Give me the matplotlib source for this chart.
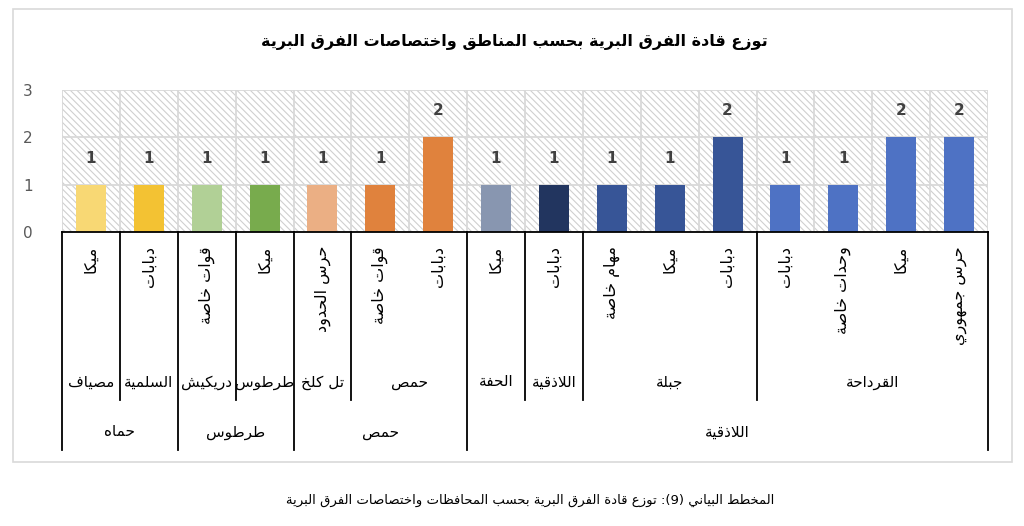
import matplotlib
matplotlib.use("Agg")
import matplotlib.pyplot as plt
import matplotlib.transforms as mtransforms
from matplotlib.patches import Rectangle
from matplotlib.lines import Line2D
import numpy as np

# ---------------- data ----------------
title = "توزع قادة الفرق البرية بحسب المناطق واختصاصات الفرق البرية"
caption = "المخطط البياني (9): توزع قادة الفرق البرية بحسب المحافظات واختصاصات الفرق البرية"
categories = ['ميكا', 'دبابات', 'قوات خاصة', 'ميكا', 'حرس الحدود', 'قوات خاصة', 'دبابات',
              'ميكا', 'دبابات', 'مهام خاصة', 'ميكا', 'دبابات',
              'دبابات', 'وحدات خاصة', 'ميكا', 'حرس جمهوري']
regions = ['مصياف', 'السلمية', 'دريكيش', 'طرطوس', 'تل كلخ', 'حمص', 'حمص',
           'الحفة', 'اللاذقية', 'جبلة', 'جبلة', 'جبلة',
           'القرداحة', 'القرداحة', 'القرداحة', 'القرداحة']
governorates = ['حماه', 'حماه', 'طرطوس', 'طرطوس', 'حمص', 'حمص', 'حمص',
                'اللاذقية', 'اللاذقية', 'اللاذقية', 'اللاذقية', 'اللاذقية',
                'اللاذقية', 'اللاذقية', 'اللاذقية', 'اللاذقية']
values = [1, 1, 1, 1, 1, 1, 2, 1, 1, 1, 1, 2, 1, 1, 2, 2]
yticks = [0, 1, 2, 3]
colors = ['#F8D874', '#F3C233', '#B1D096', '#78AB4D', '#EBAF84', '#E0823D', '#E0823D',
          '#8896B0', '#22355F', '#375597', '#375597', '#375597',
          '#4E72C4', '#4E72C4', '#4E72C4', '#4E72C4']

# ---------------- minimal Arabic shaping (presentation forms) ----------------
FORMS = {
    'ء': (0xFE80, None, None, None),
    'آ': (0xFE81, 0xFE82, None, None), 'أ': (0xFE83, 0xFE84, None, None),
    'ؤ': (0xFE85, 0xFE86, None, None), 'إ': (0xFE87, 0xFE88, None, None),
    'ئ': (0xFE89, 0xFE8A, 0xFE8B, 0xFE8C), 'ا': (0xFE8D, 0xFE8E, None, None),
    'ب': (0xFE8F, 0xFE90, 0xFE91, 0xFE92), 'ة': (0xFE93, 0xFE94, None, None),
    'ت': (0xFE95, 0xFE96, 0xFE97, 0xFE98), 'ث': (0xFE99, 0xFE9A, 0xFE9B, 0xFE9C),
    'ج': (0xFE9D, 0xFE9E, 0xFE9F, 0xFEA0), 'ح': (0xFEA1, 0xFEA2, 0xFEA3, 0xFEA4),
    'خ': (0xFEA5, 0xFEA6, 0xFEA7, 0xFEA8), 'د': (0xFEA9, 0xFEAA, None, None),
    'ذ': (0xFEAB, 0xFEAC, None, None), 'ر': (0xFEAD, 0xFEAE, None, None),
    'ز': (0xFEAF, 0xFEB0, None, None), 'س': (0xFEB1, 0xFEB2, 0xFEB3, 0xFEB4),
    'ش': (0xFEB5, 0xFEB6, 0xFEB7, 0xFEB8), 'ص': (0xFEB9, 0xFEBA, 0xFEBB, 0xFEBC),
    'ض': (0xFEBD, 0xFEBE, 0xFEBF, 0xFEC0), 'ط': (0xFEC1, 0xFEC2, 0xFEC3, 0xFEC4),
    'ظ': (0xFEC5, 0xFEC6, 0xFEC7, 0xFEC8), 'ع': (0xFEC9, 0xFECA, 0xFECB, 0xFECC),
    'غ': (0xFECD, 0xFECE, 0xFECF, 0xFED0), 'ف': (0xFED1, 0xFED2, 0xFED3, 0xFED4),
    'ق': (0xFED5, 0xFED6, 0xFED7, 0xFED8), 'ك': (0xFED9, 0xFEDA, 0xFEDB, 0xFEDC),
    'ل': (0xFEDD, 0xFEDE, 0xFEDF, 0xFEE0), 'م': (0xFEE1, 0xFEE2, 0xFEE3, 0xFEE4),
    'ن': (0xFEE5, 0xFEE6, 0xFEE7, 0xFEE8), 'ه': (0xFEE9, 0xFEEA, 0xFEEB, 0xFEEC),
    'و': (0xFEED, 0xFEEE, None, None), 'ى': (0xFEEF, 0xFEF0, None, None),
    'ي': (0xFEF1, 0xFEF2, 0xFEF3, 0xFEF4),
    'لآ': (0xFEF5, 0xFEF6, None, None), 'لأ': (0xFEF7, 0xFEF8, None, None),
    'لإ': (0xFEF9, 0xFEFA, None, None), 'لا': (0xFEFB, 0xFEFC, None, None),
}
MIRROR = {'(': ')', ')': '(', '[': ']', ']': '['}


def shape(text):
    toks = []
    i = 0
    while i < len(text):
        if text[i] == 'ل' and i + 1 < len(text) and text[i:i + 2] in FORMS:
            toks.append(text[i:i + 2]); i += 2
        else:
            toks.append(text[i]); i += 1
    out = []
    for k, t in enumerate(toks):
        if t not in FORMS:
            out.append(MIRROR.get(t, t)); continue
        iso, fin, ini, med = FORMS[t]
        prev = toks[k - 1] if k > 0 else None
        nxt = toks[k + 1] if k + 1 < len(toks) else None
        jp = prev in FORMS and FORMS[prev][2] is not None
        jn = ini is not None and nxt in FORMS and nxt != 'ء'
        if jp and jn:
            c = med
        elif jp:
            c = fin if fin else iso
        elif jn:
            c = ini
        else:
            c = iso
        out.append(chr(c))
    return ''.join(reversed(out))


# ---------------- figure ----------------
plt.rcParams['font.family'] = ['DejaVu Sans']
plt.rcParams['hatch.linewidth'] = 0.8
W, H = 1024, 526
fig = plt.figure(figsize=(W / 100, H / 100), dpi=100)
fig.patch.set_facecolor('white')

# outer frame
fig.patches.append(Rectangle((13 / W, 1 - 462 / H), (1012 - 13) / W, (462 - 9) / H,
                             transform=fig.transFigure, fill=False,
                             edgecolor='#D9D9D9', linewidth=1.2))

ax = fig.add_axes([62 / W, 1 - 232 / H, (988 - 62) / W, (232 - 90) / H])
n = len(values)
x = np.arange(n)
ax.set_xlim(-0.5, n - 0.5)
ax.set_ylim(0, 3)

# hatched background
ax.add_patch(Rectangle((0, 0), 1, 1, transform=ax.transAxes, facecolor='white',
                       edgecolor='#CFCFCF', hatch='\\\\\\\\\\', linewidth=0, zorder=0))

ax.set_yticks(yticks)
ax.set_xticks(np.arange(-0.5, n, 1), minor=True)
ax.set_xticks([])
ax.grid(axis='y', color='#D9D9D9', linewidth=1.3, zorder=1)
ax.grid(axis='x', which='minor', color='#D9D9D9', linewidth=1.3, zorder=1)
ax.set_axisbelow(True)
for s in ['top', 'right', 'left']:
    ax.spines[s].set_visible(False)
ax.spines['bottom'].set_color('black')
ax.spines['bottom'].set_linewidth(1.3)
ax.spines['bottom'].set_zorder(5)
ax.tick_params(axis='y', length=0, pad=21, labelsize=11, labelcolor='#595959')
ax.tick_params(axis='x', which='both', length=0)

bars = ax.bar(x, values, width=0.52, color=colors, zorder=3)
for xi, v in zip(x, values):
    ax.text(xi, v + 0.56, str(v), ha='center', va='center', fontsize=11,
            fontweight='bold', color='#404040')

# ---------------- multi-level category axis ----------------
tr = mtransforms.blended_transform_factory(ax.transData, ax.transAxes)
ax_h = 232 - 90
y_l2_bottom = -(400 - 232) / ax_h
y_l3_bottom = -(450 - 232) / ax_h
y_l1_top = -(246 - 232) / ax_h
y_l2_c = -(382 - 232) / ax_h
y_l3_c = -(432 - 232) / ax_h


def groups(labels):
    g = []
    start = 0
    for i in range(1, len(labels) + 1):
        if i == len(labels) or labels[i] != labels[start]:
            g.append((start, i - 1, labels[start]))
            start = i
    return g


gov_groups = groups(governorates)
reg_groups = groups([gv + '|' + r for gv, r in zip(governorates, regions)])
gov_bounds = set([g[0] for g in gov_groups] + [n])
reg_bounds = set(g[0] for g in reg_groups)

for b in sorted(gov_bounds):
    ax.add_line(Line2D([b - 0.5, b - 0.5], [0, y_l3_bottom], transform=tr, color='black',
                       linewidth=1.3, clip_on=False))
for b in sorted(reg_bounds - gov_bounds):
    ax.add_line(Line2D([b - 0.5, b - 0.5], [0, y_l2_bottom], transform=tr, color='black',
                       linewidth=1.3, clip_on=False))

for xi, c in zip(x, categories):
    ax.text(xi, y_l1_top, shape(c), transform=tr, rotation=90, ha='center', va='top',
            fontsize=11.5, color='black', rotation_mode='default')
for s, e, lab in reg_groups:
    ax.text((s + e) / 2, y_l2_c, shape(lab.split('|')[1]), transform=tr, ha='center',
            va='center', fontsize=11, color='black')
for s, e, lab in gov_groups:
    ax.text((s + e) / 2, y_l3_c, shape(lab), transform=tr, ha='center', va='center',
            fontsize=11, color='black')

fig.text(514 / W, 1 - 42 / H, shape(title), ha='center', va='center', fontsize=11.5,
         fontweight='bold', color='black')
fig.text(530 / W, 1 - 500 / H, shape(caption), ha='center', va='center', fontsize=9.5,
         color='black')

fig.savefig('out.png', dpi=100, facecolor='white')
